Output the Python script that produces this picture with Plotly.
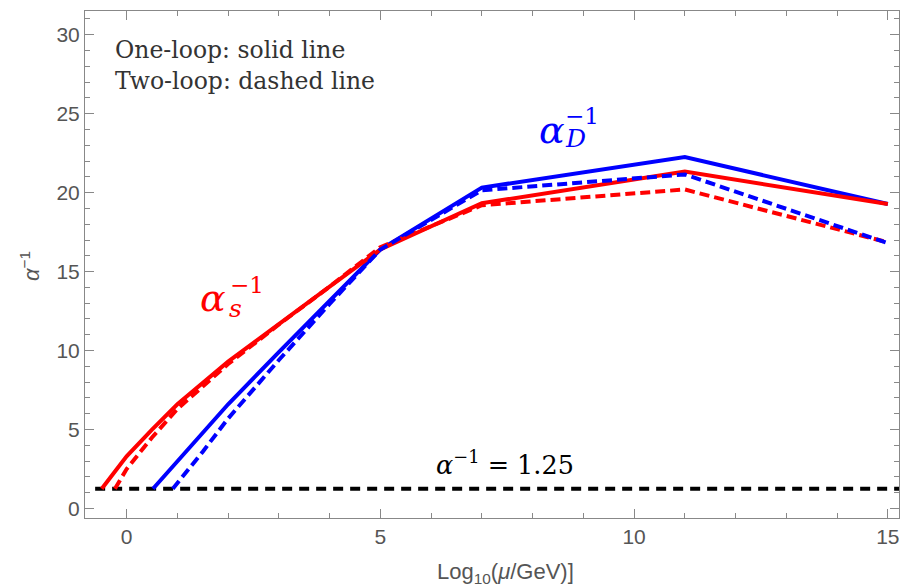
import plotly.graph_objects as go

# ---- data ----
red_solid_x = [-0.49, 0.0, 0.5, 1.0, 2.0, 3.0, 4.0, 5.0, 7.0, 11.0, 15.0]
red_solid_y = [1.25, 3.3, 5.0, 6.6, 9.3, 11.7, 14.05, 16.4, 19.33, 21.33, 19.28]

red_dash_x = [-0.23, 0.0, 0.5, 1.0, 2.0, 3.0, 4.0, 5.0, 7.0, 11.0, 15.0]
red_dash_y = [1.25, 2.5, 4.5, 6.3, 9.15, 11.65, 14.05, 16.55, 19.2, 20.2, 16.85]

blue_solid_x = [0.52, 1.0, 2.0, 3.0, 4.0, 5.0, 7.0, 11.0, 15.0]
blue_solid_y = [1.25, 3.0, 6.6, 9.9, 13.15, 16.4, 20.32, 22.25, 19.28]

blue_dash_x = [0.91, 1.5, 2.0, 3.0, 4.0, 5.0, 7.0, 11.0, 15.0]
blue_dash_y = [1.25, 3.6, 5.7, 9.4, 12.95, 16.4, 20.15, 21.15, 16.8]

thresh_x = [-0.62, 15.22]
thresh_y = [1.25, 1.25]

x_ticks = [0, 5, 10, 15]
y_ticks = [0, 5, 10, 15, 20, 25, 30]

RED = "#ff0000"
BLUE = "#0000ff"
SERIF = "DejaVu Serif"
SANS = "Liberation Sans"

fig = go.Figure()
fig.add_trace(go.Scatter(x=thresh_x, y=thresh_y, mode="lines",
                         line=dict(color="black", width=4, dash="10px,7px")))
fig.add_trace(go.Scatter(x=blue_solid_x, y=blue_solid_y, mode="lines",
                         line=dict(color=BLUE, width=4)))
fig.add_trace(go.Scatter(x=red_solid_x, y=red_solid_y, mode="lines",
                         line=dict(color=RED, width=4)))
fig.add_trace(go.Scatter(x=red_dash_x, y=red_dash_y, mode="lines",
                         line=dict(color=RED, width=4, dash="10px,5px")))
fig.add_trace(go.Scatter(x=blue_dash_x, y=blue_dash_y, mode="lines",
                         line=dict(color=BLUE, width=4, dash="10px,5px")))

ann = []
# legend-like text
ann.append(dict(x=-0.27, y=29.04, xref="x", yref="y", xanchor="left", yanchor="middle",
                text="One-loop: solid line", showarrow=False,
                font=dict(family=SERIF, size=23.5, color="#333")))
ann.append(dict(x=-0.27, y=27.09, xref="x", yref="y", xanchor="left", yanchor="middle",
                text="Two-loop: dashed line", showarrow=False,
                font=dict(family=SERIF, size=23.5, color="#333")))
# alpha_D^-1
ann.append(dict(x=8.09, y=23.97, xref="x", yref="y", xanchor="left", yanchor="middle",
                text="<i>α</i>", showarrow=False, font=dict(family=SERIF, size=38, color=BLUE)))
ann.append(dict(x=8.60, y=23.40, xref="x", yref="y", xanchor="left", yanchor="middle",
                text="<i>D</i>", showarrow=False, font=dict(family=SERIF, size=25, color=BLUE)))
ann.append(dict(x=8.60, y=24.87, xref="x", yref="y", xanchor="left", yanchor="middle",
                text="−1", showarrow=False, font=dict(family=SERIF, size=23, color=BLUE)))
# alpha_s^-1
ann.append(dict(x=1.41, y=13.36, xref="x", yref="y", xanchor="left", yanchor="middle",
                text="<i>α</i>", showarrow=False, font=dict(family=SERIF, size=38, color=RED)))
ann.append(dict(x=1.98, y=12.69, xref="x", yref="y", xanchor="left", yanchor="middle",
                text="<i>s</i>", showarrow=False, font=dict(family=SERIF, size=25, color=RED)))
ann.append(dict(x=2.0, y=14.15, xref="x", yref="y", xanchor="left", yanchor="middle",
                text="−1", showarrow=False, font=dict(family=SERIF, size=23, color=RED)))
# threshold label
ann.append(dict(x=6.06, y=2.9, xref="x", yref="y", xanchor="left", yanchor="middle",
                text="<i>α</i><sup>−1</sup> = 1.25", showarrow=False,
                font=dict(family=SERIF, size=25.5, color="black")))
# axis titles
ann.append(dict(x=-0.0676, y=0.497, xref="paper", yref="paper", xanchor="center", yanchor="middle",
                text="<i>α</i><sup>−1</sup>", textangle=-90, showarrow=False,
                font=dict(family=SANS, size=22, color="#555")))
ann.append(dict(x=0.516, y=-0.108, xref="paper", yref="paper", xanchor="center", yanchor="middle",
                text="Log<sub>10</sub>(<i>μ</i>/GeV)]", showarrow=False,
                font=dict(family=SANS, size=22, color="#555")))

axis_common = dict(showline=True, linecolor="#888", linewidth=1, mirror="ticks",
                   ticks="inside", ticklen=9, tickcolor="#888", showgrid=False, zeroline=False,
                   automargin=False,
                   tickfont=dict(family=SANS, size=21, color="#555"))

fig.update_layout(
    width=900, height=586,
    margin=dict(l=85, r=1, t=11, b=68),
    plot_bgcolor="white", paper_bgcolor="white",
    showlegend=False,
    annotations=ann,
    xaxis=dict(range=[-0.82, 15.22], tickvals=x_ticks,
               minor=dict(dtick=1, tick0=0, ticks="inside", ticklen=5, tickcolor="#888"),
               **axis_common),
    yaxis=dict(range=[-0.6, 31.5], tickvals=y_ticks,
               minor=dict(dtick=1, tick0=0, ticks="inside", ticklen=5, tickcolor="#888"),
               **axis_common),
)

fig.write_html("out.html",
               config={"displayModeBar": False},
               post_script="document.body.style.margin='0';document.body.style.overflow='hidden';")
